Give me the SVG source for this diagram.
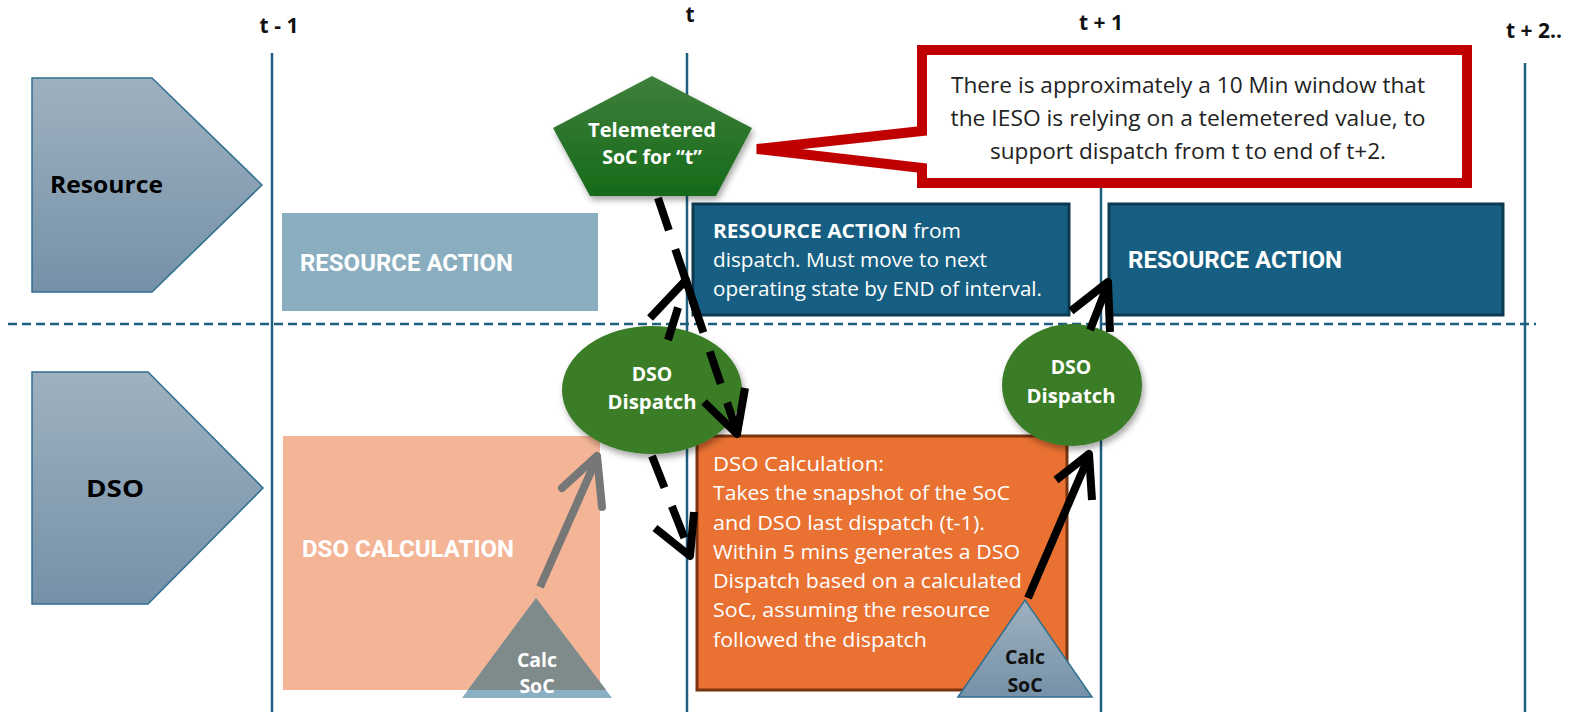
<svg xmlns="http://www.w3.org/2000/svg" width="1572" height="720" viewBox="0 0 1572 720">
<style>
.tl{font-family:"Open Sans","Liberation Sans",sans-serif;font-weight:700;font-size:21px;fill:#111;text-anchor:middle}
.vl{stroke:#1f5f80;stroke-width:2.5;fill:none}
.lane{font-family:"Open Sans","Liberation Sans",sans-serif;font-weight:700;font-size:23px;fill:#000}
.cap{font-family:"Roboto","Liberation Sans",sans-serif;font-weight:700;font-size:23px;fill:#fff}
.body{font-family:"Open Sans","Liberation Sans",sans-serif;font-size:20px;fill:#fff}
.call{font-family:"Open Sans","Liberation Sans",sans-serif;font-size:21px;fill:#222;text-anchor:middle}
.wb{font-family:"Open Sans","Liberation Sans",sans-serif;font-weight:700;font-size:19.5px;fill:#fff;text-anchor:middle}
.blk{stroke:#000;stroke-width:8;fill:none;stroke-linecap:butt;stroke-linejoin:round}
.dash{stroke-dasharray:34 20}
</style>
<defs>
<linearGradient id="gp" x1="0" y1="0" x2="0" y2="1"><stop offset="0" stop-color="#9fb1bf"/><stop offset="1" stop-color="#7591a8"/></linearGradient>
<linearGradient id="gg" x1="0" y1="0" x2="0" y2="1"><stop offset="0" stop-color="#3f7f3a"/><stop offset="1" stop-color="#166a1a"/></linearGradient>
<filter id="sh" x="-20%" y="-20%" width="140%" height="150%"><feDropShadow dx="2" dy="4" stdDeviation="3" flood-color="#000" flood-opacity="0.35"/></filter>
</defs>
<rect width="1572" height="720" fill="#fff"/>

<g id="timeline">
<text class="tl" x="279" y="33">t - 1</text>
<text class="tl" x="690" y="22">t</text>
<text class="tl" x="1101" y="30">t + 1</text>
<text class="tl" x="1534" y="38">t + 2..</text>
<line class="vl" x1="272" y1="53" x2="272" y2="712"/>
<line class="vl" x1="687" y1="53" x2="687" y2="712"/>
<line class="vl" x1="1101" y1="53" x2="1101" y2="712"/>
<line class="vl" x1="1525" y1="63" x2="1525" y2="712"/>
<line x1="8" y1="324" x2="1536" y2="324" stroke="#1f5f80" stroke-width="2.5" stroke-dasharray="9 5"/>
</g>

<g id="lane-resource">
<path d="M32 78 H152 L262 185 L152 292 H32 Z" fill="url(#gp)" stroke="#2f6f90" stroke-width="1.5"/>
<text class="lane" x="50" y="193" textLength="113" lengthAdjust="spacingAndGlyphs">Resource</text>
</g>
<g id="lane-dso">
<path d="M32 372 H148 L263 488 L148 604 H32 Z" fill="url(#gp)" stroke="#2f6f90" stroke-width="1.5"/>
<text class="lane" x="86" y="497" textLength="58" lengthAdjust="spacingAndGlyphs">DSO</text>
</g>

<g id="resource-action-prev">
<rect x="282" y="213" width="316" height="98" fill="#8aaec0"/>
<text class="cap" x="300" y="271" textLength="213" lengthAdjust="spacingAndGlyphs">RESOURCE ACTION</text>
</g>

<g id="resource-action-t">
<rect x="693" y="204" width="376" height="111" fill="#175f82" stroke="#0d3a50" stroke-width="3"/>
<text class="body" x="713" y="238" textLength="248" lengthAdjust="spacingAndGlyphs"><tspan font-weight="700">RESOURCE ACTION</tspan> from</text>
<text class="body" x="713" y="267" textLength="274" lengthAdjust="spacingAndGlyphs">dispatch. Must move to next</text>
<text class="body" x="713" y="296" textLength="329" lengthAdjust="spacingAndGlyphs">operating state by END of interval.</text>
</g>

<g id="resource-action-t1">
<rect x="1109" y="204" width="394" height="111" fill="#175f82" stroke="#0d3a50" stroke-width="3"/>
<text class="cap" x="1128" y="268" textLength="214" lengthAdjust="spacingAndGlyphs">RESOURCE ACTION</text>
</g>

<g id="dso-calc-prev">
<rect x="283" y="436" width="317" height="254" fill="#f4b597"/>
<text class="cap" x="302" y="557" textLength="212" lengthAdjust="spacingAndGlyphs">DSO CALCULATION</text>
</g>

<g id="calc-soc-prev">
<polygon points="462,698 536,598 612,698" fill="#8ab0c3"/>
<polygon points="467.9,690 536,598 606.1,690" fill="#7f8a8b"/>
<text class="wb" x="537" y="667">Calc</text>
<text class="wb" x="537" y="693">SoC</text>
</g>

<g id="dso-calc-t">
<rect x="697" y="436" width="370" height="254" fill="#e97132" stroke="#7a3510" stroke-width="3"/>
<text class="body" x="713" y="471" textLength="171" lengthAdjust="spacingAndGlyphs">DSO Calculation:</text>
<text class="body" x="713" y="500" textLength="297" lengthAdjust="spacingAndGlyphs">Takes the snapshot of the SoC</text>
<text class="body" x="713" y="530" textLength="272" lengthAdjust="spacingAndGlyphs">and DSO last dispatch (t-1).</text>
<text class="body" x="713" y="559" textLength="307" lengthAdjust="spacingAndGlyphs">Within 5 mins generates a DSO</text>
<text class="body" x="713" y="588" textLength="309" lengthAdjust="spacingAndGlyphs">Dispatch based on a calculated</text>
<text class="body" x="713" y="617" textLength="277" lengthAdjust="spacingAndGlyphs">SoC, assuming the resource</text>
<text class="body" x="713" y="647" textLength="214" lengthAdjust="spacingAndGlyphs">followed the dispatch</text>
</g>

<g id="calc-soc-t">
<polygon points="958,697 1025,600 1092,697" fill="url(#gp)" stroke="#2f6f90" stroke-width="1.5"/>
<text class="wb" x="1025" y="664" style="fill:#111">Calc</text>
<text class="wb" x="1025" y="692" style="fill:#111">SoC</text>
</g>

<g id="telemetered">
<polygon points="652,76 752,128 716,196 590,196 553,128" fill="url(#gg)" filter="url(#sh)"/>
<text class="wb" x="652" y="137" textLength="128" lengthAdjust="spacingAndGlyphs">Telemetered</text>
<text class="wb" x="652" y="164">SoC for “t”</text>
</g>

<g id="dso-dispatch-t">
<ellipse cx="652" cy="390" rx="90" ry="64" fill="#3a7d25" filter="url(#sh)"/>
<text class="wb" x="652" y="381">DSO</text>
<text class="wb" x="652" y="409" textLength="89" lengthAdjust="spacingAndGlyphs">Dispatch</text>
</g>

<g id="dso-dispatch-t1">
<ellipse cx="1072" cy="385" rx="70" ry="61" fill="#3a7d25" filter="url(#sh)"/>
<text class="wb" x="1071" y="374">DSO</text>
<text class="wb" x="1071" y="403" textLength="89" lengthAdjust="spacingAndGlyphs">Dispatch</text>
</g>

<g id="callout">
<path d="M922 50 H1467 V183 H922 V168 L757 149 L922 131 Z" fill="#fff" stroke="#c00000" stroke-width="10" stroke-linejoin="miter"/>
<text class="call" x="1188" y="93" textLength="474" lengthAdjust="spacingAndGlyphs">There is approximately a 10 Min window that</text>
<text class="call" x="1188" y="126" textLength="475" lengthAdjust="spacingAndGlyphs">the IESO is relying on a telemetered value, to</text>
<text class="call" x="1188" y="159" textLength="396" lengthAdjust="spacingAndGlyphs">support dispatch from t to end of t+2.</text>
</g>

<g id="connectors">
<path class="blk dash" d="M658 198 L737 432"/>
<path class="blk" d="M704 402 L737 434 L745 388"/>
<path class="blk dash" d="M668 340 L686 282"/>
<path class="blk" d="M650 318 L686 280 L697 314"/>
<path class="blk dash" d="M652 456 L690 552"/>
<path class="blk" d="M655 528 L690 556 L694 512"/>
<path class="blk" d="M1028 598 L1089 456"/>
<path class="blk" d="M1056 480 L1089 454 L1092 500"/>
<path class="blk" d="M1090 330 L1108 284"/>
<path class="blk" d="M1071 311 L1108 282 L1110 332"/>
<path d="M540 587 L597 458" stroke="#777" stroke-width="8" fill="none"/>
<path d="M562 488 L597 456 L602 507" stroke="#777" stroke-width="8" fill="none" stroke-linecap="round" stroke-linejoin="round"/>
</g>
</svg>
